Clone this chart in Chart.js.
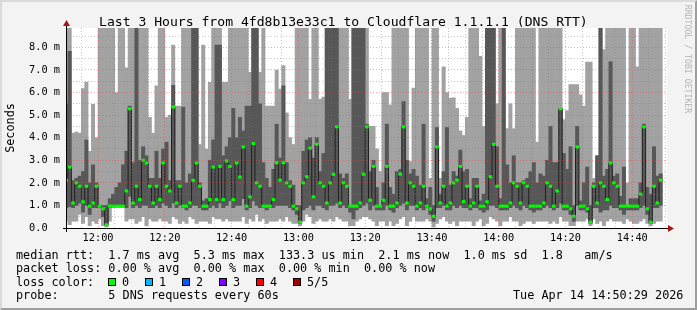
<!DOCTYPE html>
<html>
<head>
<meta charset="utf-8">
<title>Last 3 Hours - DNS RTT</title>
<script src="https://cdn.jsdelivr.net/npm/chart.js@4.4.1/dist/chart.umd.min.js"></script>
<style>
  html, body { margin: 0; padding: 0; background: #f3f3f3; }
  #graph { position: relative; width: 697px; height: 310px; overflow: hidden; background: #f3f3f3;
           font-family: 'DejaVu Sans Mono', monospace; color: #000; }
  #graph canvas { position: absolute; left: 0; top: 0; }
  .txt { position: absolute; white-space: pre; font-size: 11.8px; line-height: 14px; }
  #title { left: 99px; top: 14px; font-size: 13.1px; line-height: 16px; }
  #ylabel { left: -22px; top: 121px; width: 64px; text-align: center; transform: rotate(-90deg); }
  #credit { left: 633px; top: 54px; width: 110px; text-align: center; font-size: 8.2px; line-height: 10px;
            color: #b4b4b4; transform: rotate(90deg); }
  .box { position: absolute; top: 278px; width: 8px; height: 8px; box-sizing: border-box; border: 1px solid #000; }
  #edge { position: absolute; left: 0; top: 0; width: 697px; height: 310px; box-sizing: border-box;
          border: 2px solid; border-color: #dadada #9e9e9e #9e9e9e #dadada; pointer-events: none; }
</style>
</head>
<body>
<div id="graph">
  <canvas id="rtt-chart" width="697" height="310"></canvas>
  <div class="txt" id="title">Last 3 Hours from 4fd8b13e33c1 to Cloudflare 1.1.1.1 (DNS RTT)</div>
  <div class="txt" id="ylabel">Seconds</div>
  <div class="txt" id="credit">RRDTOOL / TOBI OETIKER</div>
  <div class="txt" style="left:16px;top:248px">median rtt:  1.7 ms avg  5.3 ms max  133.3 us min  2.1 ms now  1.0 ms sd  1.8   am/s</div>
  <div class="txt" style="left:16px;top:261px">packet loss: 0.00 % avg  0.00 % max  0.00 % min  0.00 % now</div>
  <div class="txt" style="left:16px;top:275px">loss color:</div>
  <div class="box" style="left:108px;background:#00ff00"></div><div class="txt" style="left:122px;top:275px">0</div>
  <div class="box" style="left:145px;background:#00b8ff"></div><div class="txt" style="left:159px;top:275px">1</div>
  <div class="box" style="left:182px;background:#0059ff"></div><div class="txt" style="left:196px;top:275px">2</div>
  <div class="box" style="left:219px;background:#7e00ff"></div><div class="txt" style="left:233px;top:275px">3</div>
  <div class="box" style="left:256px;background:#ff0000"></div><div class="txt" style="left:270px;top:275px">4</div>
  <div class="box" style="left:293px;background:#a10000"></div><div class="txt" style="left:307px;top:275px">5/5</div>
  <div class="txt" style="left:16px;top:288px">probe:       5 DNS requests every 60s</div>
  <div class="txt" style="left:513px;top:288px">Tue Apr 14 14:50:29 2026</div>
  <div id="edge"></div>
</div>
<script>
(function () {
  'use strict';

  // --- Data (ms), one value per minute starting 11:50 ---
  var START_MIN = 11 * 60 + 50;

  var medianMs = [
    2.11, 2.70, 1.11, 2.00, 1.85, 1.16, 1.85, 0.97, 1.11, 1.85,
    0.97, 0.85, 0.14, 0.97, 0.97, 0.97, 0.97, 0.97, 1.64, 5.28,
    1.11, 1.85, 1.26, 3.00, 2.88, 1.85, 1.11, 1.85, 1.26, 2.88,
    1.85, 1.64, 5.36, 1.11, 1.85, 0.97, 0.97, 1.11, 2.11, 2.88,
    1.85, 0.97, 0.97, 1.26, 2.70, 1.26, 2.73, 1.26, 2.97, 2.73,
    1.26, 2.88, 2.26, 3.59, 0.97, 1.38, 3.74, 2.00, 1.85, 0.97,
    0.97, 0.97, 1.26, 2.89, 2.12, 2.89, 2.00, 1.85, 0.97, 0.85,
    0.26, 2.00, 2.27, 3.54, 1.38, 3.71, 2.00, 1.85, 1.11, 2.00,
    2.38, 4.48, 1.11, 2.00, 1.85, 0.97, 0.97, 0.97, 1.11, 2.38,
    4.48, 1.23, 2.73, 0.97, 0.97, 1.23, 2.73, 0.97, 0.97, 1.11,
    2.39, 4.48, 1.11, 2.00, 1.85, 0.97, 1.11, 1.85, 0.97, 0.85,
    0.52, 3.59, 1.11, 1.85, 0.97, 1.11, 2.00, 2.12, 2.73, 1.17,
    1.85, 0.97, 1.11, 1.85, 0.97, 0.97, 1.16, 2.27, 3.71, 1.85,
    0.97, 0.97, 0.97, 1.11, 2.00, 1.85, 1.11, 2.00, 1.85, 0.97,
    0.97, 0.97, 0.97, 1.11, 2.00, 1.85, 0.97, 1.64, 5.28, 0.97,
    0.97, 0.85, 0.52, 3.59, 0.97, 0.97, 0.85, 0.26, 1.85, 1.11,
    2.00, 1.85, 1.26, 2.88, 2.00, 1.85, 0.97, 0.97, 0.97, 0.97,
    0.97, 0.97, 1.50, 4.48, 0.85, 0.26, 1.85, 1.11, 2.12
  ];

  // lowest ping of each round (bottom of light smoke)
  var pingLowMs = [
    0.3, 0.15, 0.3, 0.3, 0.6, 0.2, 0.5, 0.1, 0.3, 0.2,
    0.4, 0.1, 0.05, 0.3, 0.9, 0.9, 0.9, 0.9, 0.3, 0.4,
    0.4, 0.2, 0.3, 0.5, 0.1, 0.4, 0.3, 0.3, 0.4, 0.3,
    0.3, 0.2, 0.5, 0.4, 0.2, 0.3, 0.2, 0.5, 0.4, 0.2,
    0.3, 0.3, 0.3, 0.2, 0.5, 0.4, 0.4, 0.3, 0.4, 0.3,
    0.3, 0.3, 0.3, 0.5, 0.2, 0.4, 0.3, 0.6, 0.3, 0.4,
    0.2, 0.3, 0.3, 0.3, 0.4, 0.3, 0.5, 0.3, 0.2, 0.2,
    0.1, 0.3, 0.6, 0.5, 0.2, 0.3, 0.4, 0.3, 0.3, 0.4,
    0.3, 0.5, 0.4, 0.3, 0.3, 0.1, 0.1, 0.3, 0.4, 0.5,
    0.5, 0.4, 0.3, 0.1, 0.3, 0.3, 0.1, 0.3, 0.1, 0.2,
    0.4, 0.5, 0.1, 0.3, 0.5, 0.3, 0.3, 0.3, 0.4, 0.3,
    0.05, 0.2, 0.4, 0.5, 0.3, 0.2, 0.3, 0.1, 0.3, 0.3,
    0.3, 0.3, 0.1, 0.3, 0.4, 0.1, 0.2, 0.5, 0.4, 0.3,
    0.1, 0.3, 0.3, 0.5, 0.3, 0.3, 0.1, 0.2, 0.3, 0.3,
    0.2, 0.3, 0.3, 0.3, 0.3, 0.2, 0.3, 0.2, 0.5, 0.3,
    0.3, 0.1, 0.1, 0.3, 0.3, 0.3, 0.4, 0.1, 0.4, 0.2,
    0.3, 0.1, 0.3, 0.4, 0.3, 0.3, 0.3, 0.2, 0.4, 0.3,
    0.2, 0.2, 0.3, 0.4, 0.2, 0.1, 0.2, 0.3, 0.3
  ];

  // second ping (bottom of dark smoke)
  var pingLow2Ms = [
    0.9, 0.95, 0.9, 1.0, 1.1, 0.7, 1.0, 0.6, 0.9, 0.9,
    0.9, 0.5, 0.1, 0.9, 0.95, 0.95, 0.95, 0.95, 0.9, 1.4,
    0.9, 1.0, 0.9, 1.0, 1.0, 0.9, 0.9, 1.0, 0.9, 1.1,
    1.0, 0.9, 1.1, 0.9, 1.0, 0.9, 0.8, 0.9, 1.0, 1.0,
    0.9, 0.8, 0.8, 0.9, 1.0, 0.9, 1.1, 0.9, 1.0, 1.2,
    0.9, 1.0, 1.0, 1.3, 0.8, 0.9, 1.2, 1.0, 0.9, 0.9,
    0.8, 0.9, 0.9, 1.0, 1.0, 1.0, 1.0, 0.9, 0.8, 0.6,
    0.2, 0.8, 0.9, 1.0, 0.8, 1.0, 1.0, 0.9, 0.8, 1.0,
    1.0, 1.1, 0.9, 1.0, 0.9, 0.7, 0.4, 0.8, 0.9, 1.0,
    1.1, 0.8, 1.0, 0.8, 0.8, 0.8, 1.0, 0.8, 0.7, 0.9,
    1.0, 1.1, 0.8, 1.0, 1.0, 0.8, 0.9, 0.8, 0.9, 0.6,
    0.3, 0.9, 0.9, 1.0, 0.8, 0.8, 1.0, 0.9, 1.0, 0.9,
    0.9, 0.8, 0.9, 0.9, 0.8, 0.7, 0.8, 1.0, 1.0, 0.9,
    0.8, 0.8, 0.8, 0.9, 1.0, 0.9, 0.8, 1.0, 0.9, 0.8,
    0.7, 0.8, 0.8, 0.9, 1.0, 0.9, 0.8, 0.9, 1.1, 0.8,
    0.8, 0.6, 0.3, 1.0, 0.8, 0.8, 0.7, 0.2, 0.9, 0.9,
    0.7, 0.8, 0.8, 1.0, 0.9, 0.9, 0.8, 0.6, 0.8, 0.8,
    0.8, 0.8, 0.9, 1.0, 0.6, 0.2, 0.9, 0.9, 1.0
  ];

  // fourth ping (top of dark smoke)
  var pingHigh2Ms = [
    5.5, 7.83, 2.1, 2.2, 2.3, 2.5, 3.9, 2.0, 2.8, 2.0,
    1.0, 1.0, 1.0, 1.3, 1.5, 1.8, 2.0, 2.8, 3.4, 5.4,
    2.9, 9.5, 3.0, 3.6, 3.2, 2.2, 2.2, 3.4, 2.2, 3.5,
    3.8, 2.1, 6.32, 2.1, 2.1, 5.35, 2.0, 2.4, 9.5, 9.5,
    2.0, 1.2, 1.3, 3.0, 3.9, 8.1, 8.1, 3.2, 3.6, 4.0,
    5.3, 4.0, 4.9, 4.3, 5.4, 5.4, 9.5, 9.5, 5.5, 2.9,
    2.2, 1.8, 2.6, 4.6, 3.1, 6.3, 2.9, 2.1, 1.9, 1.0,
    1.0, 3.4, 3.9, 4.0, 3.1, 4.0, 2.5, 3.3, 9.5, 9.5,
    9.5, 9.5, 2.4, 2.2, 2.4, 1.0, 9.5, 9.5, 9.5, 9.5,
    4.6, 2.5, 3.0, 1.8, 1.0, 2.0, 4.6, 1.8, 1.5, 2.5,
    2.6, 5.6, 3.0, 2.4, 2.6, 2.3, 1.9, 4.6, 1.3, 1.8,
    1.0, 4.45, 1.5, 2.5, 4.45, 1.9, 2.5, 2.3, 3.45, 2.5,
    2.6, 1.3, 2.2, 2.2, 1.2, 1.5, 9.5, 9.5, 9.5, 3.6,
    1.3, 9.5, 2.8, 2.0, 3.2, 2.0, 2.0, 2.1, 2.2, 2.5,
    2.9, 2.0, 2.4, 2.3, 3.0, 4.5, 2.9, 2.9, 5.3, 3.3,
    2.6, 3.6, 1.0, 4.5, 1.2, 2.0, 2.7, 1.0, 2.0, 3.2,
    9.5, 2.3, 2.6, 7.36, 2.3, 2.4, 1.4, 2.7, 1.0, 1.3,
    1.3, 1.3, 2.0, 4.6, 1.8, 1.5, 3.6, 2.3, 2.4
  ];

  // highest ping (top of light smoke), 9.5 = above the graph
  var pingHighMs = [
    9.5, 9.5, 4.2, 4.25, 4.2, 6.18, 6.46, 3.4, 5.48, 4.0,
    9.5, 9.5, 9.5, 9.5, 9.5, 6.0, 9.5, 9.5, 7.1, 9.5,
    9.5, 9.5, 9.5, 9.5, 9.5, 4.9, 4.2, 6.3, 9.5, 9.5,
    4.9, 5.0, 8.1, 5.4, 5.4, 9.5, 9.5, 9.5, 9.5, 9.5,
    3.7, 8.1, 3.5, 6.45, 9.5, 9.5, 9.5, 6.45, 6.45, 9.5,
    9.5, 9.5, 9.5, 9.5, 9.5, 6.9, 9.5, 9.5, 6.9, 9.5,
    5.4, 5.4, 5.4, 7.0, 6.15, 7.2, 5.1, 4.0, 3.7, 9.5,
    9.5, 9.5, 9.5, 5.7, 9.5, 9.5, 5.7, 5.8, 9.5, 9.5,
    9.5, 9.5, 9.5, 9.5, 9.5, 5.7, 9.5, 9.5, 9.5, 9.5,
    9.5, 4.5, 4.5, 3.5, 2.5, 6.0, 6.0, 5.45, 9.5, 9.5,
    9.5, 9.5, 9.5, 2.95, 6.2, 9.5, 9.5, 9.5, 9.5, 2.2,
    9.5, 9.5, 2.2, 7.14, 6.0, 5.75, 5.77, 5.3, 4.3, 4.1,
    4.9, 9.5, 9.5, 9.5, 7.6, 4.5, 9.5, 9.5, 9.5, 5.5,
    9.5, 9.5, 4.4, 5.5, 4.4, 9.5, 9.5, 9.5, 9.5, 9.5,
    9.5, 3.8, 9.5, 9.5, 9.5, 9.5, 9.5, 9.5, 9.5, 4.8,
    5.2, 6.35, 6.35, 6.35, 5.9, 5.4, 7.35, 7.35, 2.2, 3.2,
    9.5, 7.9, 9.5, 9.5, 9.5, 9.5, 9.5, 9.5, 2.0, 9.5,
    9.5, 7.14, 9.5, 9.5, 9.5, 9.5, 9.5, 9.5, 9.5
  ];

  var yTicksMs = [0, 1, 2, 3, 4, 5, 6, 7, 8];
  var xTickMinutes = [10, 30, 50, 70, 90, 110, 130, 150, 170];

  var MONO = "'DejaVu Sans Mono', monospace";

  function pad2(n) { return (n < 10 ? '0' : '') + n; }

  function timeLabel(t) {
    var m = START_MIN + t;
    return pad2(Math.floor(m / 60) % 24) + ':' + pad2(m % 60);
  }

  // one point per minute, centred in its minute slot
  function points(values) {
    return values.map(function (v, i) { return { x: i + 0.5, y: v }; });
  }

  function bands(lo, hi) {
    return lo.map(function (v, i) { return { x: i + 0.5, y: [v, hi[i]] }; });
  }

  // --- Frame: white canvas area, axes and arrows ---
  var framePlugin = {
    id: 'rrdFrame',
    beforeDraw: function (chart) {
      var a = chart.chartArea, ctx = chart.ctx;
      ctx.save();
      ctx.fillStyle = '#ffffff';
      ctx.fillRect(a.left, a.top, a.right - a.left, a.bottom - a.top);
      ctx.restore();
    },
    afterDraw: function (chart) {
      var a = chart.chartArea, ctx = chart.ctx;
      var x0 = a.left - 0.5, y0 = a.bottom + 0.5;
      ctx.save();
      ctx.strokeStyle = '#000';
      ctx.lineWidth = 1;
      ctx.beginPath();
      ctx.moveTo(a.left - 4, y0); ctx.lineTo(a.right + 3, y0);
      ctx.moveTo(x0, a.bottom + 4); ctx.lineTo(x0, a.top - 5);
      ctx.stroke();
      ctx.fillStyle = '#a01818';
      ctx.beginPath();
      ctx.moveTo(a.right + 1, y0 - 3.5); ctx.lineTo(a.right + 7, y0); ctx.lineTo(a.right + 1, y0 + 3.5);
      ctx.closePath(); ctx.fill();
      ctx.beginPath();
      ctx.moveTo(x0 - 3.5, a.top - 2); ctx.lineTo(x0, a.top - 8); ctx.lineTo(x0 + 3.5, a.top - 2);
      ctx.closePath(); ctx.fill();
      ctx.restore();
    }
  };

  var MAJOR = 'rgba(255, 60, 60, 0.45)';
  var MINOR = 'rgba(120, 120, 120, 0.4)';

  new Chart(document.getElementById('rtt-chart'), {
    type: 'bar',
    data: {
      datasets: [
        {
          label: 'median',
          type: 'line',
          data: points(medianMs),
          showLine: false,
          pointStyle: 'line',
          pointRadius: 1.8,
          pointBorderWidth: 3,
          pointBorderColor: '#00ff00',
          pointBackgroundColor: '#00ff00',
          order: 0
        },
        {
          label: 'median line',
          type: 'line',
          data: points(medianMs),
          stepped: 'middle',
          borderColor: '#202020',
          borderWidth: 1,
          pointRadius: 0,
          order: 1
        },
        {
          label: 'smoke inner',
          data: bands(pingLow2Ms, pingHigh2Ms),
          backgroundColor: '#575757',
          borderWidth: 0,
          grouped: false,
          barPercentage: 1,
          categoryPercentage: 1,
          order: 2
        },
        {
          label: 'smoke outer',
          data: bands(pingLowMs, pingHighMs),
          backgroundColor: '#a2a2a2',
          borderWidth: 0,
          grouped: false,
          barPercentage: 1,
          categoryPercentage: 1,
          order: 3
        }
      ]
    },
    options: {
      responsive: false,
      animation: false,
      events: [],
      layout: { padding: { left: 0, right: 30, top: 28, bottom: 60 } },
      plugins: { legend: { display: false }, tooltip: { enabled: false } },
      scales: {
        x: {
          type: 'linear',
          min: 0.7,
          max: 180.4,
          offset: false,
          afterFit: function (s) { s.height = 22; },
          ticks: {
            stepSize: 5,
            includeBounds: false,
            autoSkip: false,
            maxRotation: 0,
            minRotation: 0,
            padding: 4,
            color: '#000',
            font: { family: MONO, size: 10.3 },
            callback: function (v) { return xTickMinutes.indexOf(v) >= 0 ? timeLabel(v) : ''; }
          },
          grid: {
            z: 1,
            offset: false,
            drawTicks: false,
            color: function (c) {
              var v = c.tick ? c.tick.value : 0;
              if (xTickMinutes.indexOf(v) >= 0) return MAJOR;
              return v % 5 === 0 ? MINOR : 'rgba(0,0,0,0)';
            }
          },
          border: { display: false, dash: [1, 2] }
        },
        y: {
          min: 0,
          max: 8.86,
          afterFit: function (s) { s.width = 67; },
          ticks: {
            stepSize: 0.5,
            includeBounds: false,
            autoSkip: false,
            padding: 7,
            color: '#000',
            font: { family: MONO, size: 10.3 },
            callback: function (v) {
              if (yTicksMs.indexOf(v) < 0) return '';
              return v === 0 ? '0.0  ' : v.toFixed(1) + ' m';
            }
          },
          grid: {
            z: 1,
            drawTicks: false,
            color: function (c) {
              var v = c.tick ? c.tick.value : 0;
              return yTicksMs.indexOf(v) >= 0 ? MAJOR : MINOR;
            }
          },
          border: { display: false, dash: [1, 2] }
        }
      }
    },
    plugins: [framePlugin]
  });
})();
</script>
</body>
</html>
